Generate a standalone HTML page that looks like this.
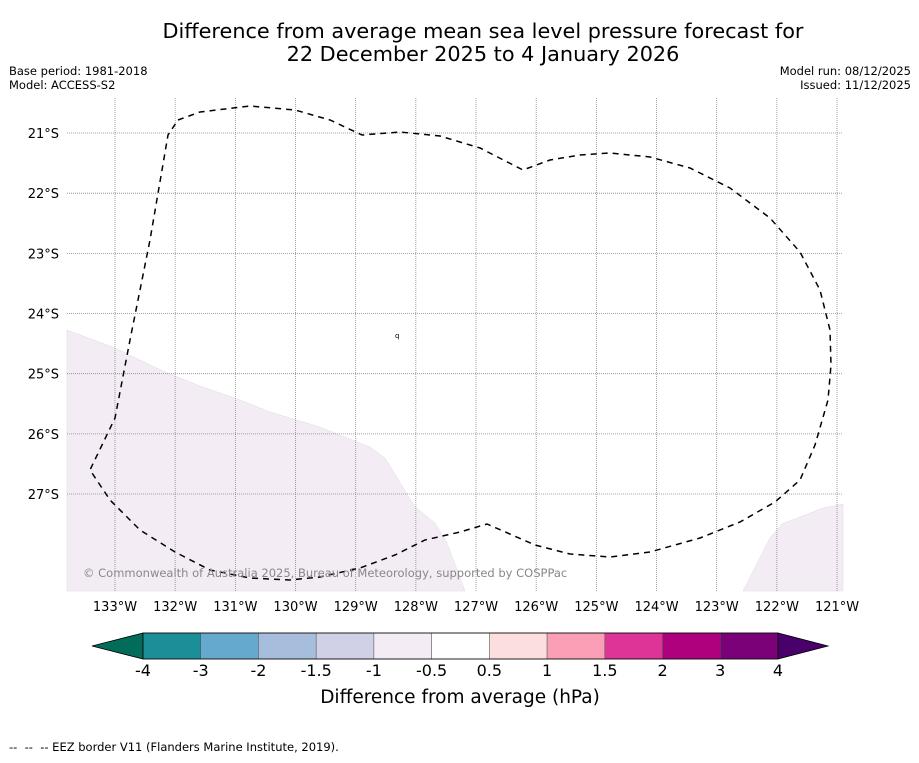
<!DOCTYPE html>
<html><head><meta charset="utf-8"><style>
body{margin:0;background:#fff;font-family:"Liberation Sans","DejaVu Sans",sans-serif}
svg text{font-family:"DejaVu Sans","Liberation Sans",sans-serif}
</style></head><body>
<svg id="c" width="919" height="758" xmlns="http://www.w3.org/2000/svg">
<rect width="919" height="758" fill="#fff"/>
<text x="483" y="38" font-size="20.8" text-anchor="middle">Difference from average mean sea level pressure forecast for</text>
<text x="483" y="61" font-size="20.8" text-anchor="middle">22 December 2025 to 4 January 2026</text>
<text x="9" y="75" font-size="11.5">Base period: 1981-2018</text>
<text x="9" y="89" font-size="11.5">Model: ACCESS-S2</text>
<text x="911" y="75" font-size="11.5" text-anchor="end">Model run: 08/12/2025</text>
<text x="911" y="89" font-size="11.5" text-anchor="end">Issued: 11/12/2025</text>
<g id="map">
<path d="M67,330 L115,348 L165,372 L200,386 L240,400 L270,412 L320,427 L370,447 L385,458 L415,507 L435,523 L447,543 L465,591 L67,591Z" fill="#f3ecf5" stroke="#ddd" stroke-width="0.5"/>
<path d="M743,591 L770,538 L782,524 L823,508 L843,504 L843,591Z" fill="#f3ecf5" stroke="#ddd" stroke-width="0.5"/>
<g id="grid"></g>
<path d="M178,120 L200,112 L250,106 L295,110 L330,120 L362,135 L400,132 L440,136 L480,148 L523,170 L550,160 L580,155 L610,153 L650,157 L690,168 L730,188 L770,218 L800,252 L820,290 L830,330 L831,365 L828,400 L815,445 L800,480 L775,502 L740,522 L700,538 L650,552 L610,557 L570,554 L535,545 L487,524 L460,532 L425,540 L395,555 L360,568 L320,577 L290,580 L250,578 L210,570 L175,552 L140,530 L110,500 L90,470 L115,418 L130,340 L150,240 L168,135Z" fill="none" stroke="#000" stroke-width="1.5" stroke-dasharray="6,5"/>
<text x="395" y="338" font-size="7">q</text>
<text x="83" y="577" font-size="11.5" fill="#888">© Commonwealth of Australia 2025, Bureau of Meteorology, supported by COSPPac</text>
</g>
<g id="cbar"></g>
<text x="460" y="703" font-size="18.5" text-anchor="middle">Difference from average (hPa)</text>
<text x="9" y="751" font-size="11.5" xml:space="preserve">--  --  -- EEZ border V11 (Flanders Marine Institute, 2019).</text>
</svg>
<script>
const lonTicks=[133,132,131,130,129,128,127,126,125,124,123,122,121];
const latTicks=[21,22,23,24,25,26,27];
const cbLabels=["-4","-3","-2","-1.5","-1","-0.5","0.5","1","1.5","2","3","4"];
const cbColors=["#1b8e98","#66a9cf","#a6bddb","#d0d1e6","#f3ecf5","#ffffff","#fddede","#fa9fb5","#dd3497","#ae017e","#7a0177"];
const NS="http://www.w3.org/2000/svg";
function xLon(l){return 115+(133-l)*60.17;}
function yLat(l){return 133+(l-21)*60.17;}
function mk(t,a,p){const e=document.createElementNS(NS,t);for(const k in a)e.setAttribute(k,a[k]);p.appendChild(e);return e;}
const g=document.getElementById('grid');
lonTicks.forEach(l=>{const x=xLon(l);
const ln=mk('line',{x1:x,x2:x,y1:98,y2:591,stroke:'#888','stroke-width':0.8,'stroke-dasharray':'1,1'},g);


const t=mk('text',{x:x,y:611,'font-size':13,'text-anchor':'middle'},g);t.textContent=l+'°W';

});
latTicks.forEach(l=>{const y=yLat(l);
const ln=mk('line',{x1:67,x2:843,y1:y,y2:y,stroke:'#888','stroke-width':0.8,'stroke-dasharray':'1,1'},g);


const t=mk('text',{x:59,y:y+5,'font-size':13,'text-anchor':'end'},g);t.textContent=l+'°S';

});
const cb=document.getElementById('cbar');
const x0=143,x1=778,w=(x1-x0)/cbColors.length,y0=633,h=26;
const lt=mk('path',{d:`M${x0},${y0} L92,${y0+h/2} L${x0},${y0+h}Z`,fill:'#016c59',stroke:'#000','stroke-width':0.8},cb);


const rt=mk('path',{d:`M${x1},${y0} L828,${y0+h/2} L${x1},${y0+h}Z`,fill:'#49006a',stroke:'#000','stroke-width':0.8},cb);


cbColors.forEach((c,i)=>{const r=mk('rect',{x:x0+i*w,y:y0,width:w,height:h,fill:c,stroke:'#555','stroke-width':0.5},cb);

});
mk('rect',{x:x0,y:y0,width:x1-x0,height:h,fill:'none',stroke:'#000','stroke-width':0.8},cb);
cbLabels.forEach((s,i)=>{const t=mk('text',{x:x0+i*w,y:676,'font-size':16,'text-anchor':'middle'},cb);t.textContent=s;

});
</script>
</body></html>
